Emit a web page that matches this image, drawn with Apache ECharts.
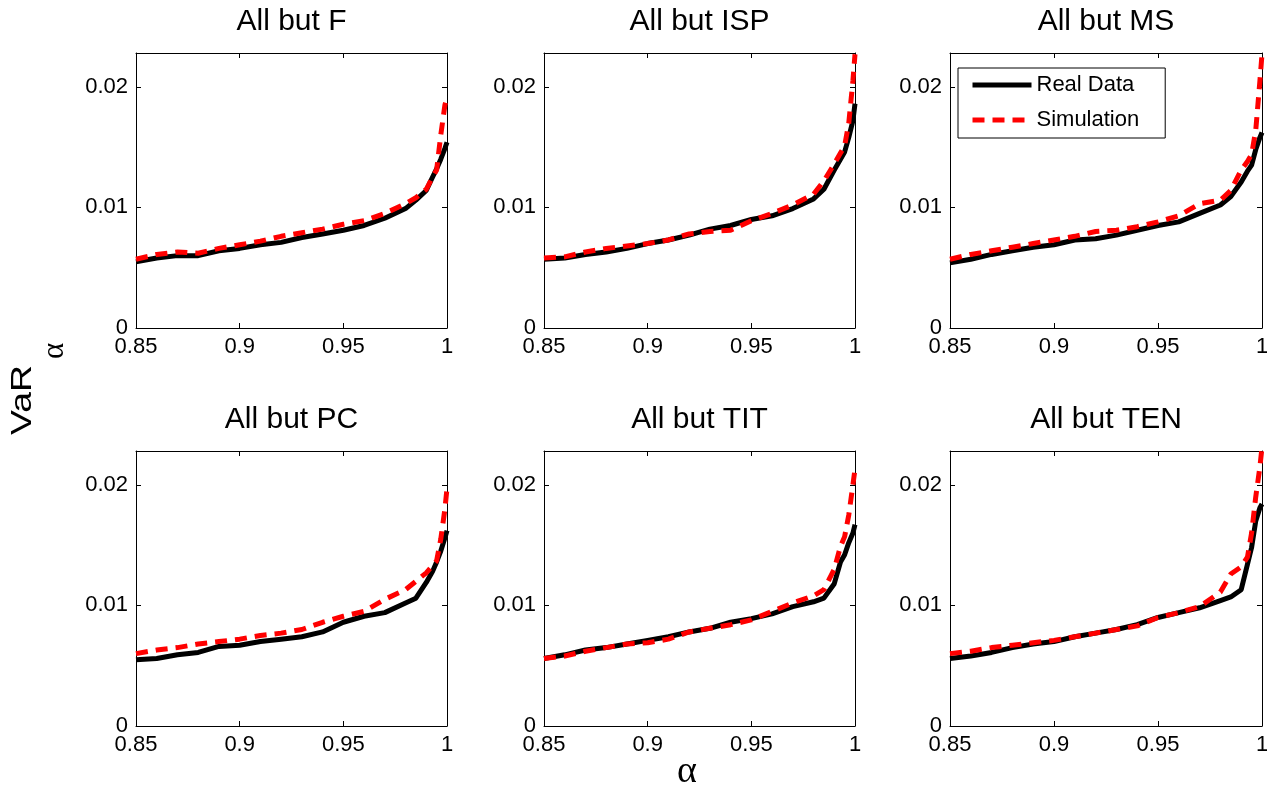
<!DOCTYPE html>
<html>
<head>
<meta charset="utf-8">
<title>VaR - All but</title>
<script src="https://cdn.jsdelivr.net/npm/echarts@6/dist/echarts.min.js"></script>
<style>
  html, body { margin: 0; padding: 0; background: #fff; }
  #charts { width: 1267px; height: 788px; }
</style>
</head>
<body>
<div id="charts"></div>
<script>
// quantile levels (x axis)
var alphaGrid = [0.85, 0.86, 0.87, 0.88, 0.89, 0.90, 0.91, 0.92, 0.93, 0.94, 0.95, 0.96, 0.97, 0.98,
                 0.985, 0.99, 0.993, 0.995, 0.997, 0.999, 1.0];

var panelNames = ['F', 'ISP', 'MS', 'PC', 'TIT', 'TEN'];

// VaR, one value per alpha
var realF   = [0.0055, 0.0058, 0.0060, 0.0060, 0.0064, 0.0066, 0.0069, 0.0071, 0.0075, 0.0078, 0.0081, 0.0085, 0.0091, 0.0099, 0.0106, 0.0114, 0.0125, 0.0132, 0.0140, 0.0149, 0.0154];
var simF    = [0.0057, 0.0061, 0.0063, 0.0062, 0.0066, 0.0069, 0.0072, 0.0076, 0.0079, 0.0082, 0.0086, 0.0089, 0.0095, 0.0103, 0.0108, 0.0115, 0.0125, 0.0131, 0.0160, 0.0185, 0.0191];
var realISP = [0.0057, 0.0058, 0.0061, 0.0063, 0.0066, 0.0070, 0.0073, 0.0077, 0.0082, 0.0085, 0.0090, 0.0093, 0.0099, 0.0107, 0.0115, 0.0131, 0.0140, 0.0146, 0.0158, 0.0172, 0.0186];
var simISP  = [0.0058, 0.0059, 0.0063, 0.0066, 0.0068, 0.0070, 0.0073, 0.0078, 0.0080, 0.0081, 0.0089, 0.0095, 0.0102, 0.0111, 0.0122, 0.0136, 0.0145, 0.0151, 0.0170, 0.0205, 0.0227];
var realMS  = [0.0054, 0.0057, 0.0061, 0.0064, 0.0067, 0.0069, 0.0073, 0.0074, 0.0077, 0.0081, 0.0085, 0.0088, 0.0095, 0.0102, 0.0109, 0.0121, 0.0130, 0.0135, 0.0148, 0.0158, 0.0162];
var simMS   = [0.0057, 0.0061, 0.0064, 0.0067, 0.0070, 0.0073, 0.0076, 0.0080, 0.0081, 0.0084, 0.0088, 0.0093, 0.0103, 0.0106, 0.0114, 0.0131, 0.0138, 0.0144, 0.0164, 0.0205, 0.0227];
var realPC  = [0.0055, 0.0056, 0.0059, 0.0061, 0.0066, 0.0067, 0.0070, 0.0072, 0.0074, 0.0078, 0.0086, 0.0091, 0.0094, 0.0102, 0.0106, 0.0119, 0.0128, 0.0136, 0.0145, 0.0156, 0.0162];
var simPC   = [0.0060, 0.0063, 0.0065, 0.0068, 0.0070, 0.0072, 0.0075, 0.0077, 0.0080, 0.0086, 0.0091, 0.0095, 0.0105, 0.0113, 0.0120, 0.0127, 0.0133, 0.0137, 0.0155, 0.0180, 0.0197];
var realTIT = [0.0056, 0.0059, 0.0063, 0.0065, 0.0068, 0.0071, 0.0074, 0.0078, 0.0081, 0.0086, 0.0089, 0.0093, 0.0099, 0.0103, 0.0106, 0.0118, 0.0136, 0.0142, 0.0152, 0.0160, 0.0167];
var simTIT  = [0.0056, 0.0058, 0.0062, 0.0065, 0.0068, 0.0069, 0.0072, 0.0078, 0.0081, 0.0084, 0.0088, 0.0095, 0.0102, 0.0108, 0.0113, 0.0130, 0.0149, 0.0157, 0.0175, 0.0200, 0.0213];
var realTEN = [0.0056, 0.0058, 0.0061, 0.0065, 0.0068, 0.0070, 0.0074, 0.0077, 0.0080, 0.0084, 0.0090, 0.0094, 0.0098, 0.0104, 0.0107, 0.0113, 0.0134, 0.0148, 0.0170, 0.0181, 0.0184];
var simTEN  = [0.0060, 0.0062, 0.0065, 0.0067, 0.0069, 0.0071, 0.0074, 0.0077, 0.0080, 0.0083, 0.0090, 0.0094, 0.0099, 0.0111, 0.0126, 0.0132, 0.0140, 0.0160, 0.0190, 0.0215, 0.0231];

var realAll = [realF, realISP, realMS, realPC, realTIT, realTEN];
var simAll  = [simF, simISP, simMS, simPC, simTIT, simTEN];

// panel boxes in px
var colLeft = [136, 544, 950];
var colWidth = [311, 311, 312];
var rowTop = [53, 451];
var plotH = 275;
var yMax = 0.0228;

var FONT = 'Liberation Sans';

var myChart = echarts.init(document.getElementById('charts'));

var grids = [], xAxes = [], yAxes = [], series = [], graphics = [];
var xTop = [], yRight = [];

function boxAxis(extra) {
    var a = {
        type: 'value',
        axisLine: { show: true, onZero: false, lineStyle: { color: '#000', width: 1 } },
        axisTick: { show: true, inside: true, length: 5, lineStyle: { color: '#000' } },
        splitLine: { show: false }
    };
    for (var k in extra) a[k] = extra[k];
    return a;
}

for (var i = 0; i < 6; i++) {
    var r = Math.floor(i / 3), c = i % 3;
    grids.push({
        left: colLeft[c], top: rowTop[r], width: colWidth[c], height: plotH,
        outerBoundsMode: 'none', containLabel: false
    });

    xAxes.push(boxAxis({
        gridIndex: i, position: 'bottom', min: 0.85, max: 1, interval: 0.05,
        axisLabel: {
            color: '#000', fontSize: 22, fontFamily: FONT, margin: 8,
            formatter: function (v) { return String(+v.toFixed(2)); }
        }
    }));
    yAxes.push(boxAxis({
        gridIndex: i, position: 'left', min: 0, max: yMax, interval: 0.01,
        axisLabel: {
            color: '#000', fontSize: 22, fontFamily: FONT, margin: 8, showMaxLabel: false,
            formatter: function (v) { return String(+v.toFixed(3)); }
        }
    }));
    // mirror axes, so the box has ticks on top and right too
    xTop.push(boxAxis({
        gridIndex: i, position: 'top', min: 0.85, max: 1, interval: 0.05,
        axisLabel: { show: false }
    }));
    yRight.push(boxAxis({
        gridIndex: i, position: 'right', min: 0, max: yMax, interval: 0.01,
        axisLabel: { show: false }
    }));

    series.push({
        name: 'Real Data', type: 'line', xAxisIndex: i, yAxisIndex: i,
        data: alphaGrid.map(function (a, k) { return [a, realAll[i][k]]; }),
        symbol: 'none', clip: true,
        lineStyle: { color: '#000', width: 5 },
        itemStyle: { color: '#000' }
    });
    series.push({
        name: 'Simulation', type: 'line', xAxisIndex: i, yAxisIndex: i,
        data: alphaGrid.map(function (a, k) { return [a, simAll[i][k]]; }),
        symbol: 'none', clip: true,
        lineStyle: { color: '#ff0000', width: 5, type: [12, 8] },
        itemStyle: { color: '#ff0000' }
    });

    graphics.push({
        type: 'text',
        x: colLeft[c] + colWidth[c] / 2,
        y: rowTop[r] - 31,
        style: {
            text: 'All but ' + panelNames[i],
            fontSize: 30, fontFamily: FONT, fill: '#000',
            align: 'center', verticalAlign: 'middle'
        }
    });
}

// axis names
graphics.push({
    type: 'text', x: 687, y: 772,
    style: { text: 'α', fontSize: 38, fontFamily: 'Liberation Serif', fill: '#000', align: 'center', verticalAlign: 'middle' }
});
graphics.push({
    type: 'text', x: 22.5, y: 400, rotation: Math.PI / 2, scaleX: 1.25,
    style: { text: 'VaR', fontSize: 30, fontFamily: FONT, fill: '#000', align: 'center', verticalAlign: 'middle' }
});
graphics.push({
    type: 'text', x: 55, y: 351, rotation: Math.PI / 2,
    style: { text: 'α', fontSize: 31, fontFamily: 'Liberation Serif', fill: '#000', align: 'center', verticalAlign: 'middle' }
});

myChart.setOption({
    animation: false,
    backgroundColor: '#fff',
    grid: grids,
    xAxis: xAxes.concat(xTop),
    yAxis: yAxes.concat(yRight),
    legend: {
        data: ['Real Data', 'Simulation'],
        orient: 'vertical',
        left: 958, top: 68,
        itemWidth: 59, itemHeight: 14, itemGap: 13,
        padding: [6, 26, 7, 12],
        borderColor: '#000', borderWidth: 1, borderRadius: 0,
        backgroundColor: '#fff',
        lineStyle: { width: 5 },
        itemStyle: { opacity: 0, color: 'transparent', borderWidth: 0 },
        textStyle: { color: '#000', fontSize: 22, fontFamily: FONT },
        selectedMode: false
    },
    series: series,
    graphic: graphics
});
</script>
</body>
</html>
